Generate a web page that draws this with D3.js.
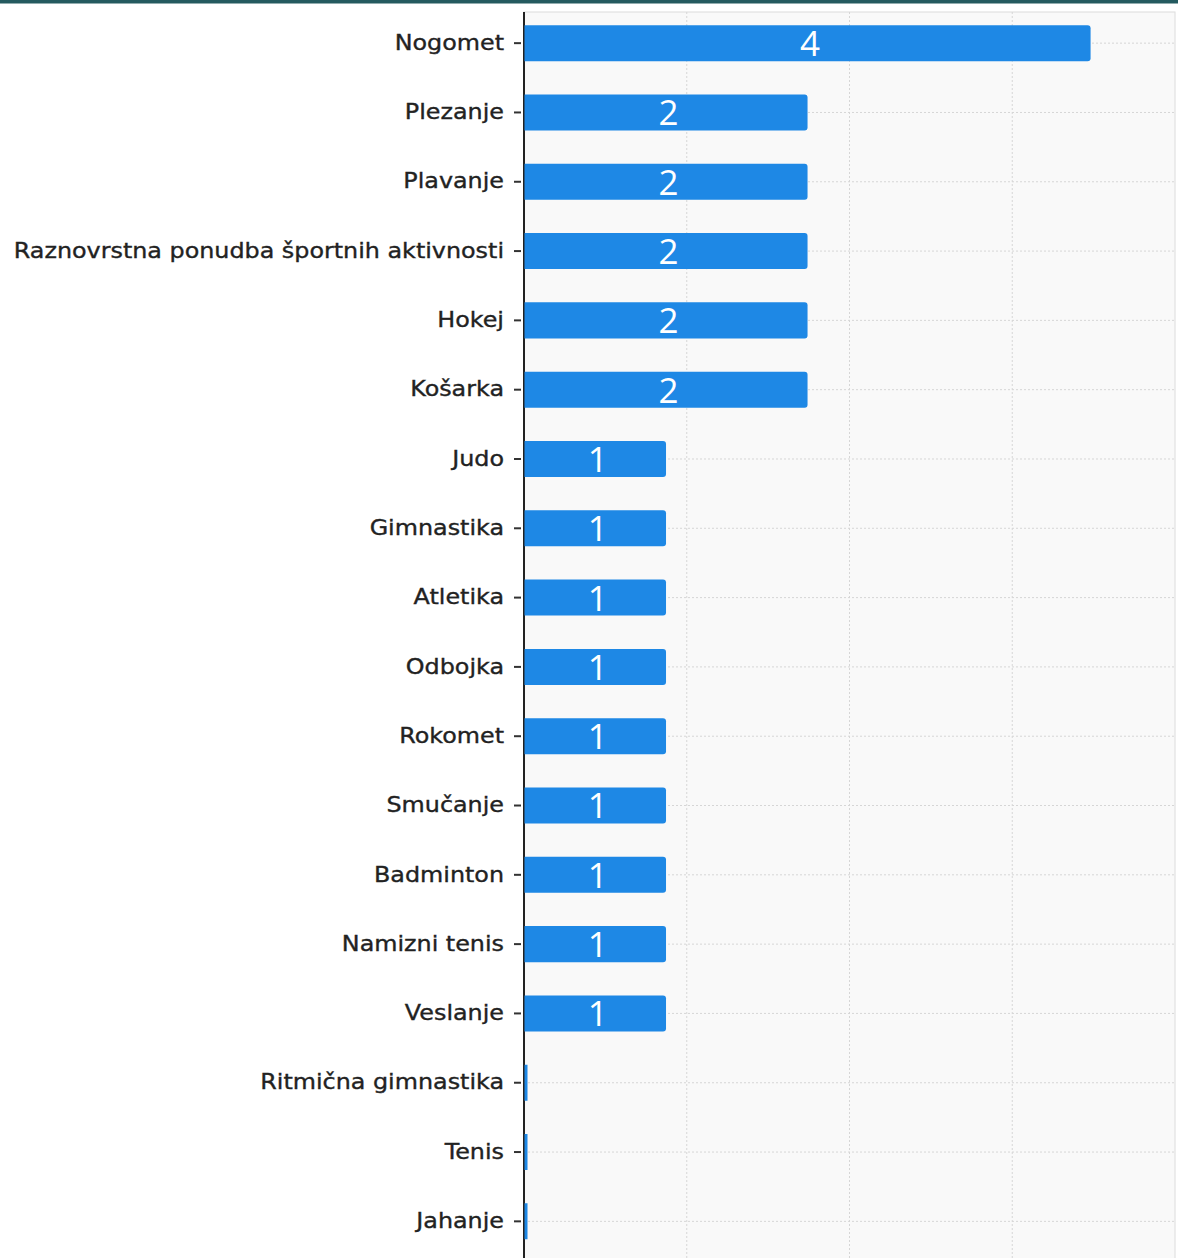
<!DOCTYPE html>
<html><head><meta charset="utf-8">
<script src="https://cdn.jsdelivr.net/npm/d3@7"></script>
<style>html,body{margin:0;padding:0;background:#fff;overflow:hidden}</style>
</head><body>
<svg id="c" width="1178" height="1258"></svg>
<script>
const categories = ["Nogomet","Plezanje","Plavanje","Raznovrstna ponudba športnih aktivnosti","Hokej","Košarka","Judo","Gimnastika","Atletika","Odbojka","Rokomet","Smučanje","Badminton","Namizni tenis","Veslanje","Ritmična gimnastika","Tenis","Jahanje"];
const values = [4,2,2,2,2,2,1,1,1,1,1,1,1,1,1,0,0,0];
const xMax = 4.6;

(function(){
const svg = d3.select("#c");
const W = 1178, H = 1258;
const pLeft = 524, pRight = 1175, pTop = 12;
const stretch = 1.135;

svg.append("rect").attr("x",0).attr("y",0).attr("width",W).attr("height",3.5).attr("fill","#245a5f");

const x = d3.scaleLinear().domain([0, xMax]).range([pLeft, pRight]);
const y = d3.scaleBand().domain(categories).range([8.5, 1256]).paddingInner(0.48).paddingOuter(0.24);

svg.append("rect").attr("x",pLeft).attr("y",pTop).attr("width",pRight-pLeft).attr("height",H-pTop+5)
  .attr("fill","#f9f9f9").attr("stroke","#dcdcdc").attr("stroke-width",1);

const gx = d3.range(1,4).map(i => xMax*i/4);
svg.append("g").selectAll("line").data(gx).join("line")
  .attr("x1",d=>x(d)).attr("x2",d=>x(d)).attr("y1",pTop).attr("y2",H)
  .attr("stroke","#d6d6d6").attr("stroke-width",1).attr("stroke-dasharray","2,2");
svg.append("g").selectAll("line").data(categories).join("line")
  .attr("x1",pLeft).attr("x2",pRight).attr("y1",d=>y(d)+y.bandwidth()/2).attr("y2",d=>y(d)+y.bandwidth()/2)
  .attr("stroke","#d6d6d6").attr("stroke-width",1).attr("stroke-dasharray","2,2");

const yAxis = d3.axisLeft(y).tickSize(9).tickPadding(11);
const ga = svg.append("g").attr("transform",`translate(${pLeft},0)`).call(yAxis);
ga.select(".domain").remove();
ga.selectAll(".tick line").attr("x2",-10).attr("x1",-3).attr("stroke","#333").attr("stroke-width",2);
ga.selectAll(".tick text")
  .attr("font-family","DejaVu Sans, Verdana, sans-serif").attr("font-size",21).attr("fill","#222")
  .attr("stroke","#222").attr("stroke-width",0.35)
  .attr("x", -20/stretch).attr("transform",`scale(${stretch},1)`);
svg.append("line").attr("x1",pLeft).attr("x2",pLeft).attr("y1",pTop).attr("y2",H).attr("stroke","#222").attr("stroke-width",2);

const data = categories.map((c,i)=>({c, v: values[i]}));
svg.append("g").selectAll("path").data(data).join("path")
  .attr("fill","#1e88e5")
  .attr("d", d => {
    const x0 = x(0) + 0.5, w = Math.max(x(d.v) - x(0), 3), y0 = y(d.c), h = y.bandwidth();
    const r = d.v > 0 ? 3 : 0;
    return `M${x0},${y0}H${x0+w-r}Q${x0+w},${y0} ${x0+w},${y0+r}V${y0+h-r}Q${x0+w},${y0+h} ${x0+w-r},${y0+h}H${x0}Z`;
  });

svg.append("g").selectAll("text").data(data.filter(d=>d.v>0)).join("text")
  .attr("x", d => (x(0)+x(d.v))/2 + 3)
  .attr("y", d => y(d.c) + y.bandwidth()/2)
  .attr("dy","0.37em")
  .attr("text-anchor","middle")
  .attr("font-family","Open Sans, sans-serif")
  .attr("font-size",35)
  .attr("fill","#fff")
  .text(d => d.v);
})();
</script>
</body></html>
